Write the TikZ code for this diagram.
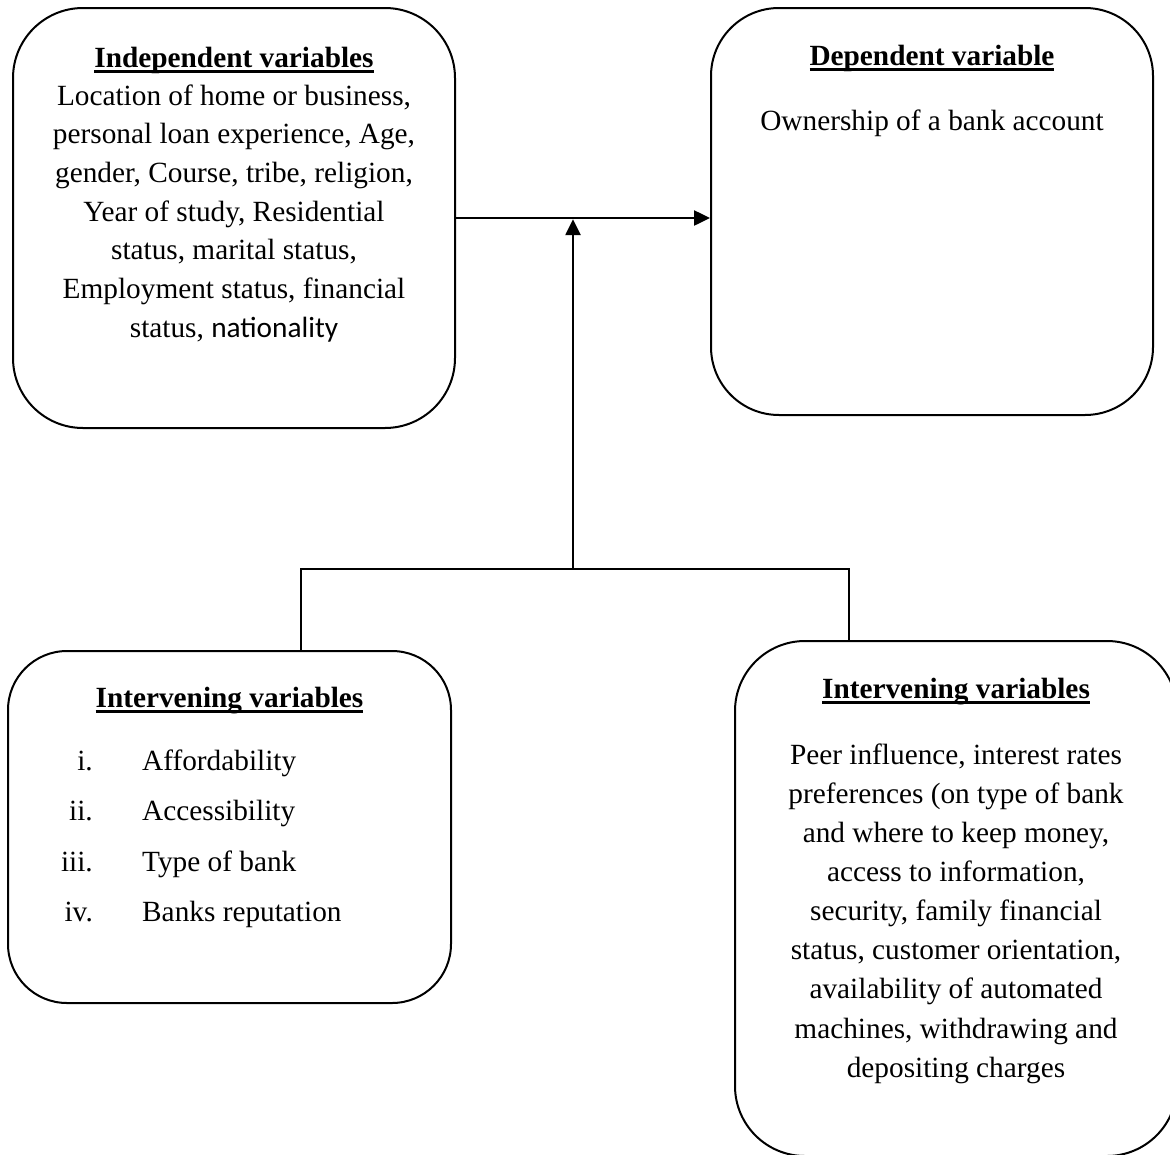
\documentclass[tikz,border=0pt]{standalone}
\usepackage{fontspec}
\setmainfont{Liberation Serif}
\newfontfamily\calibri{Carlito}
\usetikzlibrary{arrows.meta}

\newcommand{\txtsize}{\fontsize{29.3}{38.5}\selectfont}
\newcommand{\undl}[1]{\setbox0\hbox{#1}\rlap{\rule[-5.6pt]{\wd0}{2.3pt}}\box0}

\tikzset{
  varbox/.style={draw, line width=2pt, inner sep=0pt},
  heading/.style={anchor=base, inner sep=0pt, font=\txtsize\bfseries},
  body/.style={anchor=base, inner sep=0pt, font=\txtsize},
  link/.style={line width=2.5pt},
  tip/.style={-{Triangle[length=16pt,width=15pt]}},
}

\begin{document}
\begin{tikzpicture}[x=1pt,y=-1pt]
      \useasboundingbox (0,0) rectangle (1170,1154);
      \node[varbox, rounded corners=70pt, minimum width=442pt, minimum height=420pt] (indep) at (234,218) {};
      \node[varbox, rounded corners=68pt, minimum width=442pt, minimum height=407pt] (dep) at (932,211.5) {};
      \node[varbox, rounded corners=59pt, minimum width=443pt, minimum height=352pt] (interL) at (229.5,827) {};
      \node[varbox, rounded corners=70pt, minimum width=442pt, minimum height=515pt] (interR) at (956,898.5) {};

      \node[heading] (indeptitle) at (234,67) {\undl{Independent variables}};
      \node[body] (indeptext) at (234,105) {\renewcommand{\arraystretch}{1.005}\begin{tabular}[t]{@{}c@{}}
        Location of home or business,\\
        personal loan experience, Age,\\
        gender, Course, tribe, religion,\\
        Year of study, Residential\\
        status, marital status,\\
        Employment status, financial\\
        status, {\calibri nationality}
      \end{tabular}};

      \node[heading] (deptitle) at (932,65) {\undl{Dependent variable}};
      \node[body] (deptext) at (932,130) {Ownership of a bank account};

      \node[heading] (interLtitle) at (229.5,707) {\undl{Intervening variables}};
      \node[body, anchor=base east] (interLnums) at (93,770) {\renewcommand{\arraystretch}{1.315}\begin{tabular}[t]{@{}r@{}}
        i.\\ ii.\\ iii.\\ iv.
      \end{tabular}};
      \node[body, anchor=base west] (interLitems) at (142,770) {\renewcommand{\arraystretch}{1.315}\begin{tabular}[t]{@{}l@{}}
        Affordability\\ Accessibility\\ Type of bank\\ Banks reputation
      \end{tabular}};

      \node[heading] (interRtitle) at (956,698) {\undl{Intervening variables}};
      \node[body] (interRtext) at (956,764) {\renewcommand{\arraystretch}{1.017}\begin{tabular}[t]{@{}c@{}}
        Peer influence, interest rates\\
        preferences (on type of bank\\
        and where to keep money,\\
        access to information,\\
        security, family financial\\
        status, customer orientation,\\
        availability of automated\\
        machines, withdrawing and\\
        depositing charges
      \end{tabular}};

      \coordinate (fork) at (573,569);
      \coordinate (lleg) at (301,569);
      \coordinate (rleg) at (849,569);

      \draw[link, tip] (indep.east) -- (indep.east -| dep.west);
      \draw[link, tip, shorten >=1.2pt] (fork) -- (fork |- indep.east);
      \draw[link] (interL.north -| lleg) -- (lleg) -- (rleg) -- (interR.north -| rleg);
    \end{tikzpicture}
\end{document}
